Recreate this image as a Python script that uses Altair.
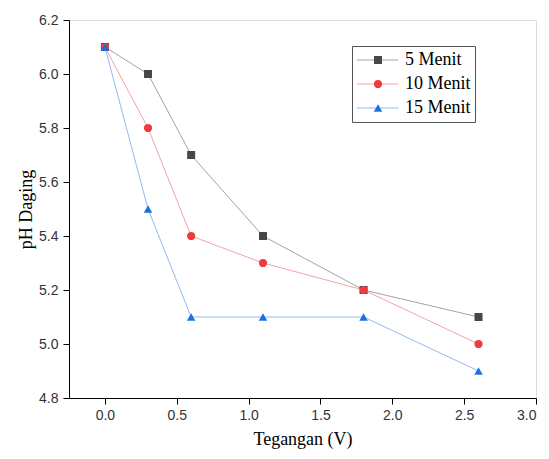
import altair as alt
import pandas as pd

voltage = [0.0, 0.3, 0.6, 1.1, 1.8, 2.6]
series_names = ["5 Menit", "10 Menit", "15 Menit"]
ph_5 = [6.1, 6.0, 5.7, 5.4, 5.2, 5.1]
ph_10 = [6.1, 5.8, 5.4, 5.3, 5.2, 5.0]
ph_15 = [6.1, 5.5, 5.1, 5.1, 5.1, 4.9]

line_colors = ["#a3a3a3", "#f5a3a3", "#93b9f2"]
marker_colors = ["#474747", "#ef3b3b", "#1c6fe0"]
marker_shapes = ["square", "circle", "triangle-up"]
marker_sizes = [64, 72, 90]

x_ticks = [i * 0.25 for i in range(0, 13)]
y_ticks = [round(4.8 + i * 0.1, 1) for i in range(0, 15)]

rows = []
for name, vals in zip(series_names, [ph_5, ph_10, ph_15]):
    for v, p in zip(voltage, vals):
        rows.append({"V": v, "pH": p, "series": name, "series2": name})
df = pd.DataFrame(rows)

x_enc = alt.X(
    "V:Q",
    scale=alt.Scale(domain=[-0.25, 3.0], nice=False, zero=False),
    axis=alt.Axis(
        title="Tegangan (V)",
        values=x_ticks,
        labelExpr="round(datum.value*4) % 2 != 0 ? '' : format(datum.value, '.1f')",
        tickSize={"condition": {"test": "round(datum.value*4) % 2 != 0", "value": 3}, "value": 6},
        grid=False,
        domainColor="#000000",
        tickColor="#000000",
        labelColor="#333333",
        labelFont="Liberation Sans",
        labelFontSize=14,
        labelPadding=4,
        labelOverlap=False,
        titleFont="Liberation Serif",
        titleFontSize=18,
        titleFontWeight="normal",
        titleColor="#000000",
        titlePadding=8,
    ),
)
y_enc = alt.Y(
    "pH:Q",
    scale=alt.Scale(domain=[4.8, 6.2], nice=False, zero=False),
    axis=alt.Axis(
        title="pH Daging",
        values=y_ticks,
        labelExpr="round(datum.value*10) % 2 != 0 ? '' : format(datum.value, '.1f')",
        tickSize={"condition": {"test": "round(datum.value*10) % 2 != 0", "value": 3}, "value": 6},
        grid=False,
        domainColor="#000000",
        tickColor="#000000",
        labelColor="#333333",
        labelFont="Liberation Sans",
        labelFontSize=14,
        labelPadding=5,
        labelOverlap=False,
        titleFont="Liberation Serif",
        titleFontSize=18,
        titleFontWeight="normal",
        titleColor="#000000",
        titlePadding=3,
    ),
)

lines = alt.Chart(df).mark_line(strokeWidth=1).encode(
    x=x_enc,
    y=y_enc,
    color=alt.Color(
        "series:N",
        scale=alt.Scale(domain=series_names, range=line_colors),
        sort=series_names,
        legend=alt.Legend(
            title=None,
            orient="none",
            legendX=283,
            legendY=26,
            symbolType="stroke",
            symbolSize=1700,
            symbolStrokeWidth=1,
            clipHeight=20,
            rowPadding=4,
            padding=4,
            labelOffset=6,
            labelFont="Liberation Serif",
            labelFontSize=18,
            labelColor="#000000",
            strokeColor="#555555",
        ),
    ),
)

pt_legend = alt.Legend(
    title=None,
    orient="none",
    legendX=300,
    legendY=26,
    symbolStrokeWidth=0,
    clipHeight=20,
    rowPadding=4,
    padding=4,
    labelExpr="''",
)

points = alt.Chart(df).mark_point(filled=True, opacity=1).encode(
    x=alt.X("V:Q"),
    y=alt.Y("pH:Q"),
    fill=alt.Fill(
        "series2:N",
        scale=alt.Scale(domain=series_names, range=marker_colors),
        sort=series_names,
        legend=pt_legend,
    ),
    shape=alt.Shape(
        "series2:N",
        scale=alt.Scale(domain=series_names, range=marker_shapes),
        sort=series_names,
        legend=pt_legend,
    ),
    size=alt.Size(
        "series2:N",
        scale=alt.Scale(domain=series_names, range=marker_sizes),
        sort=series_names,
        legend=pt_legend,
    ),
)

chart = (
    alt.layer(lines, points)
    .resolve_scale(color="independent", fill="independent", shape="independent", size="independent")
    .properties(
        width=467,
        height=378,
        autosize=alt.AutoSizeParams(type="none"),
        padding={"left": 61, "top": 12, "right": 5, "bottom": 52},
    )
    .configure_view(stroke=None)
    .configure(background="white")
)

chart.save("out.html", embed_options={"renderer": "svg", "actions": False})
